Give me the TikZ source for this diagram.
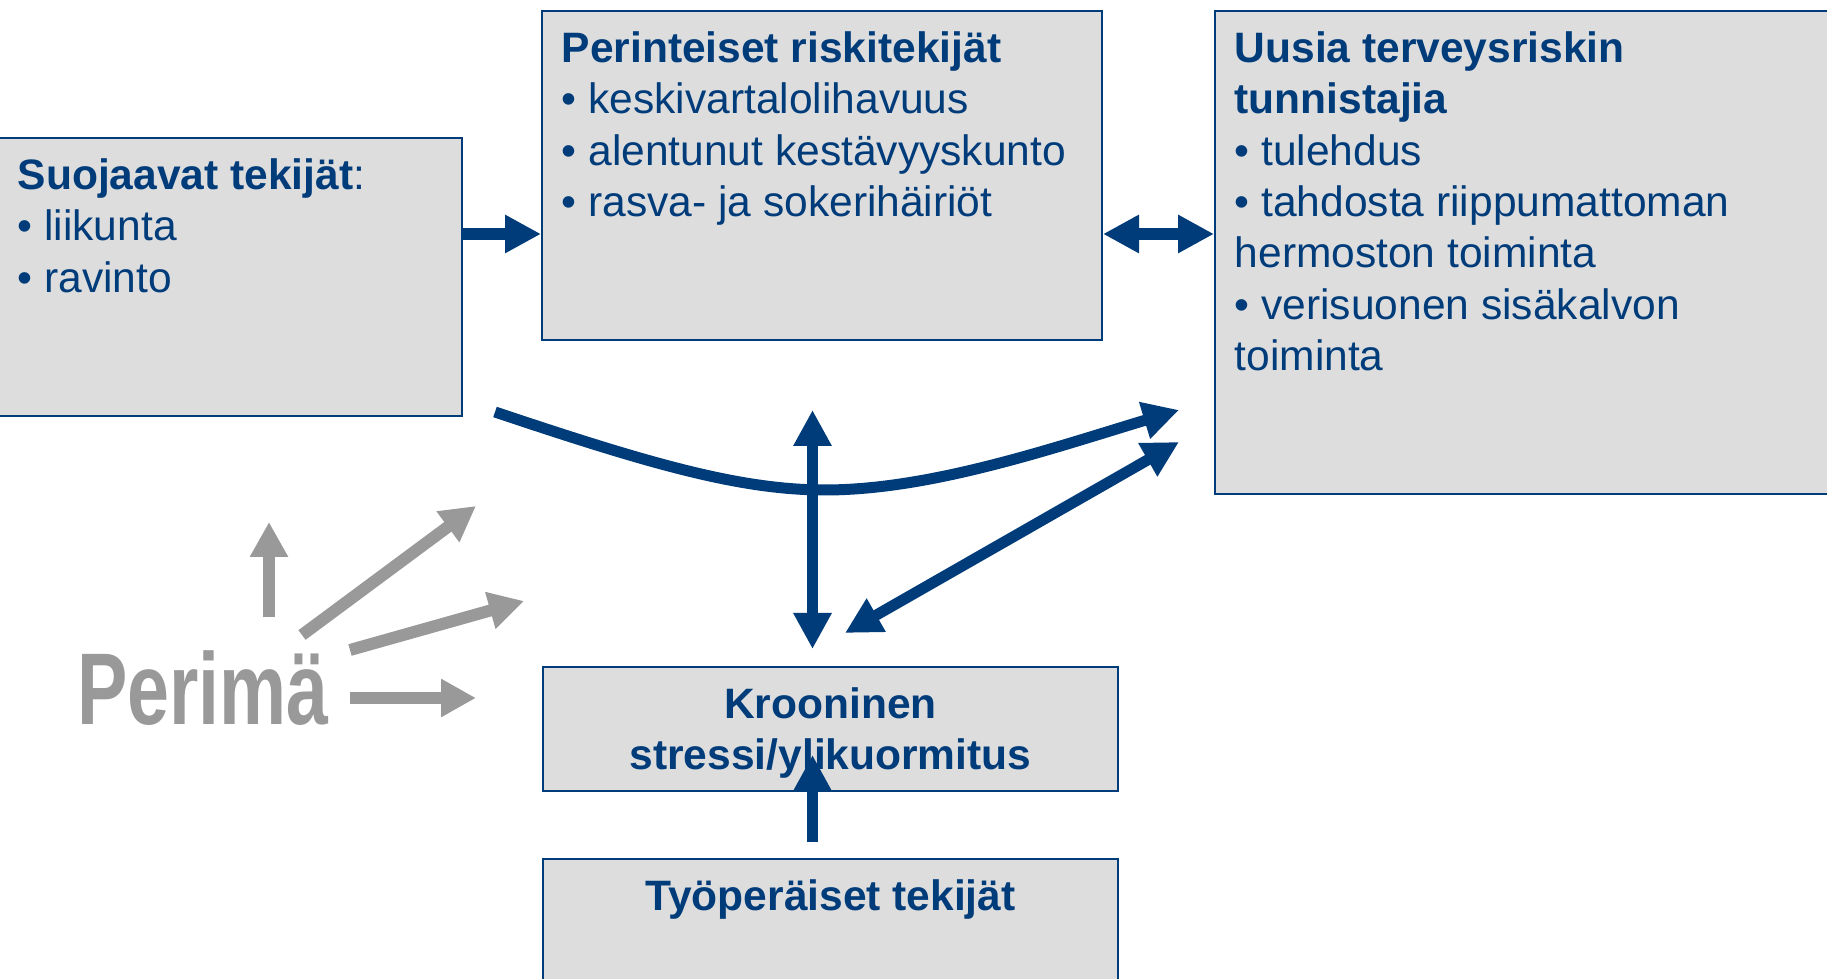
\documentclass[tikz,border=0pt]{standalone}
\usepackage{fontspec}
\setmainfont{Liberation Sans}
\usetikzlibrary{arrows.meta, positioning}

\definecolor{riskblue}{RGB}{0,59,122}
\definecolor{boxgray}{RGB}{221,221,221}
\definecolor{genegray}{RGB}{153,153,153}

\newcommand{\boxfont}{\fontsize{12.1}{14.6}\selectfont}

\begin{document}
\begin{tikzpicture}[
    box/.style={draw=riskblue, line width=0.02cm, fill=boxgray, rectangle, anchor=north west, inner sep=0pt},
    txt/.style={inner sep=0pt, align=left, text=riskblue, font=\boxfont},
    bluearrow/.style={draw=riskblue, line width=0.11cm, -{Triangle[length=0.36cm, width=0.36cm]}},
    bluedouble/.style={draw=riskblue, line width=0.11cm, {Triangle[length=0.36cm, width=0.36cm]}-{Triangle[length=0.36cm, width=0.36cm]}},
    greyarrow/.style={draw=genegray, line width=0.12cm, -{Triangle[length=0.35cm, width=0.36cm]}}
]
    \useasboundingbox (0, 0) rectangle (18.27, 9.79);

    % Boxes
    \node[box, minimum width=4.64cm, minimum height=2.78cm] (suoj) at (-0.03, 8.42) {};
    \node[box, minimum width=5.60cm, minimum height=3.29cm] (perint) at (5.41, 9.69) {};
    \node[box, minimum width=6.40cm, minimum height=4.83cm] (uusia) at (12.14, 9.69) {};
    \node[box, minimum width=5.75cm, minimum height=1.24cm] (kroon) at (5.42, 3.13) {};
    \node[box, minimum width=5.75cm, minimum height=1.50cm] (tyo) at (5.42, 1.21) {};

    % Box texts
    \node[txt, below right=0.16cm and 0.20cm of suoj.north west] (suojText)
        {\strut\textbf{Suojaavat tekijät}:\\ • liikunta\\ • ravinto};
    \node[txt, below right=0.16cm and 0.20cm of perint.north west] (perintText)
        {\strut\textbf{Perinteiset riskitekijät}\\ • keskivartalolihavuus\\
         • alentunut kestävyyskunto\\ • rasva- ja sokerihäiriöt};
    \node[txt, below right=0.16cm and 0.20cm of uusia.north west] (uusiaText)
        {\strut\textbf{Uusia terveysriskin}\\ \textbf{tunnistajia}\\ • tulehdus\\
         • tahdosta riippumattoman\\ hermoston toiminta\\
         • verisuonen sisäkalvon\\ toiminta};
    \node[txt, align=center, font=\boxfont\bfseries, below=0.16cm of kroon.north] (kroonText)
        {\strut Krooninen\\ stressi/ylikuormitus};
    \node[txt, font=\boxfont\bfseries, below=0.16cm of tyo.north] (tyoText)
        {\strut Työperäiset tekijät};

    % Perima
    \node[anchor=base, inner sep=0pt, text=genegray, font=\fontsize{29}{30}\selectfont\bfseries]
        (perima) at (2.03, 2.54) {\scalebox{0.74}[1]{Perimä}};

    % Free ends
    \coordinate (rowA) at (0, 7.45);
    \coordinate (curveStart) at (4.95, 5.67);
    \coordinate (curveLow) at (8.25, 4.89);
    \coordinate (curveEnd) at (11.79, 5.69);
    \coordinate (vertTop) at (8.125, 5.69);
    \coordinate (vertBot) at (8.125, 3.30);
    \coordinate (diagBot) at (8.45, 3.46);
    \coordinate (diagTop) at (11.79, 5.37);
    \coordinate (workTail) at (8.125, 1.37);
    \coordinate (workTip) at (8.125, 2.24);

    % Blue connectors
    \draw[draw=riskblue, line width=0.12cm, -{Triangle[length=0.36cm, width=0.36cm]}]
        (suoj.east |- rowA) -- (perint.west |- rowA);
    \draw[draw=riskblue, line width=0.12cm,
          {Triangle[length=0.36cm, width=0.36cm]}-{Triangle[length=0.36cm, width=0.36cm]}]
        (perint.east |- rowA) -- (uusia.west |- rowA);
    \draw[bluearrow] (curveStart) .. controls (6.5, 5.15) and (7.4, 4.89) .. (curveLow)
        .. controls (9.3, 4.89) and (10.5, 5.3) .. (curveEnd);
    \draw[bluedouble] (vertTop) -- (vertBot);
    \draw[bluedouble] (diagBot) -- (diagTop);
    \draw[bluearrow] (workTail) -- (workTip);

    % Grey connectors
    \coordinate (g1a) at (2.69, 3.62);  \coordinate (g1b) at (2.69, 4.57);
    \coordinate (g2a) at (3.02, 3.44);  \coordinate (g2b) at (4.76, 4.73);
    \coordinate (g3a) at (3.50, 3.29);  \coordinate (g3b) at (5.24, 3.78);
    \coordinate (g4a) at (3.50, 2.81);  \coordinate (g4b) at (4.76, 2.81);
    \draw[greyarrow] (g1a) -- (g1b);
    \draw[greyarrow] (g2a) -- (g2b);
    \draw[greyarrow] (g3a) -- (g3b);
    \draw[greyarrow] (g4a) -- (g4b);

\end{tikzpicture}
\end{document}
